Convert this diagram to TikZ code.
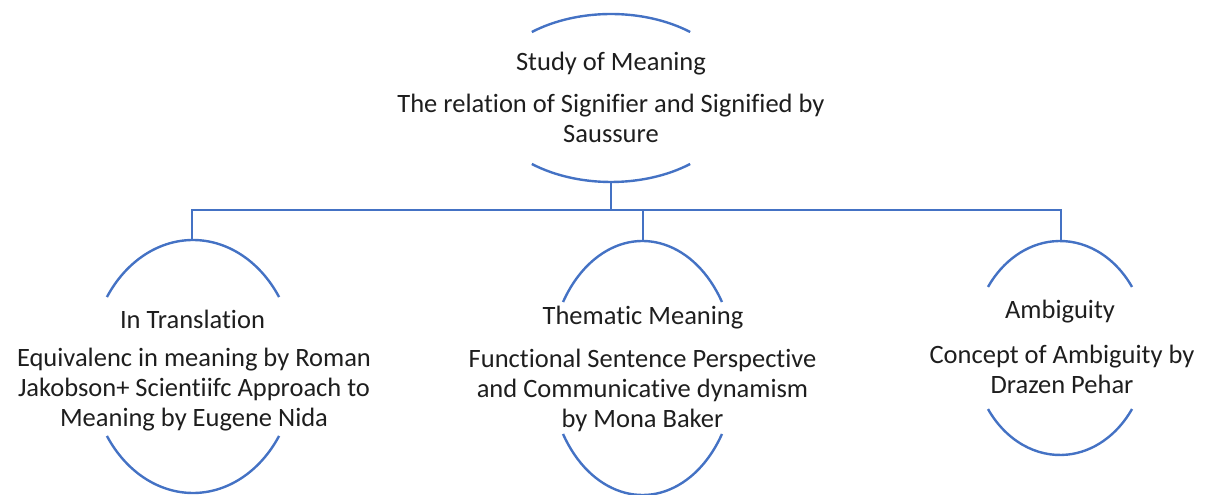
\documentclass[tikz,border=0pt]{standalone}
\usepackage{fontspec}
\setmainfont[Ligatures=NoCommon]{Carlito}
\definecolor{lineblue}{RGB}{68,114,196}
\definecolor{txt}{RGB}{30,30,30}
\tikzset{
  arcline/.style={draw=lineblue,line width=2.4pt},
  conn/.style={draw=lineblue,line width=2.4pt},
  lbl/.style={inner sep=0pt,align=center,text=txt,font=\fontsize{26.5}{30}\selectfont},
}
\begin{document}
\begin{tikzpicture}[x=1pt,y=1pt]
\useasboundingbox (0,0) rectangle (1207,495);
% ellipse centres
\coordinate (cT) at (611,397);
\coordinate (cL) at (193,128.5);
\coordinate (cM) at (642.5,127);
\coordinate (cR) at (1060,147);
% arcs
\draw[arcline] ([shift={(51.8:128 and 84)}]cT) arc[start angle=51.8,end angle=128.2,x radius=128,y radius=84];
\draw[arcline] ([shift={(231.8:128 and 84)}]cT) arc[start angle=231.8,end angle=308.2,x radius=128,y radius=84];
\draw[arcline] ([shift={(33.3:103 and 126.5)}]cL) arc[start angle=33.3,end angle=146.7,x radius=103,y radius=126.5];
\draw[arcline] ([shift={(213.3:103 and 126.5)}]cL) arc[start angle=213.3,end angle=326.7,x radius=103,y radius=126.5];
\draw[arcline] ([shift={(31.3:93 and 127)}]cM) arc[start angle=31.3,end angle=148.7,x radius=93,y radius=127];
\draw[arcline] ([shift={(211.3:93 and 127)}]cM) arc[start angle=211.3,end angle=328.7,x radius=93,y radius=127];
\draw[arcline] ([shift={(34.8:87.7 and 107)}]cR) arc[start angle=34.8,end angle=145.2,x radius=87.7,y radius=107];
\draw[arcline] ([shift={(214.8:87.7 and 107)}]cR) arc[start angle=214.8,end angle=325.2,x radius=87.7,y radius=107];
% connector anchors
\coordinate (topB) at (611,313);
\coordinate (leftT) at (192,255);
\coordinate (midT) at (643,254);
\coordinate (rightT) at (1061,254);
\coordinate (bus) at (611,285);
\draw[conn] (leftT) -- (leftT|-bus) -- (rightT|-bus) -- (rightT);
\draw[conn] (topB) -- (topB|-bus);
\draw[conn] (midT) -- (midT|-bus);
% texts
\node[lbl] (tTitle) at (611,431) {Study of Meaning};
\node[lbl] (tBody) at (611,377) {The relation of Signifier and Signified by\\Saussure};
\node[lbl] (lTitle) at (192.5,176) {In Translation};
\node[lbl] (lBody) at (194,105) {Equivalenc in meaning by Roman\\Jakobson+ Scientiifc Approach to\\Meaning by Eugene Nida};
\node[lbl] (mTitle) at (643,177) {Thematic Meaning};
\node[lbl] (mBody) at (642.5,105) {Functional Sentence Perspective\\and Communicative dynamism\\by Mona Baker};
\node[lbl] (rTitle) at (1060,183) {Ambiguity};
\node[lbl] (rBody) at (1062,126) {Concept of Ambiguity by\\Drazen Pehar};
\end{tikzpicture}
\end{document}
